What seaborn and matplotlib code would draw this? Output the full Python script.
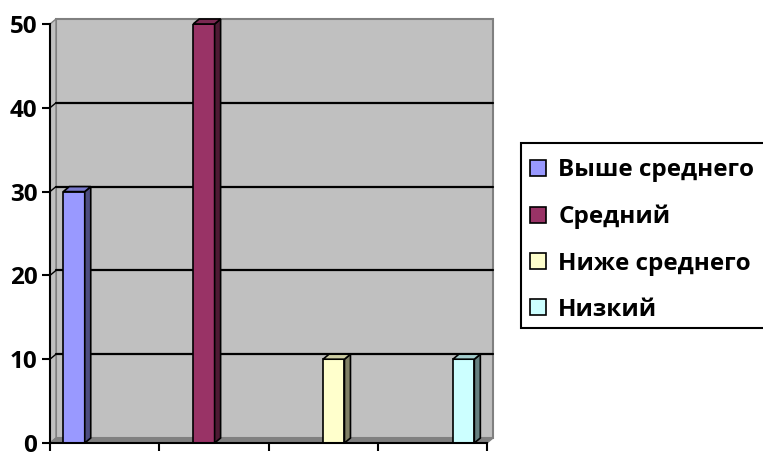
import numpy as np
import pandas as pd
import matplotlib
matplotlib.use('Agg')
import matplotlib.pyplot as plt
import seaborn as sns
from matplotlib.patches import Polygon, Patch, Rectangle
from matplotlib.lines import Line2D
import matplotlib.colors as mcolors

categories = ["Выше среднего", "Средний", "Ниже среднего", "Низкий"]
values = [30, 50, 10, 10]
colors = ["#9999FF", "#993366", "#FFFFCC", "#CCFFFF"]
y_ticks = [0, 10, 20, 30, 40, 50]

sns.set_theme(style='white')
plt.rcParams['font.family'] = ['Open Sans', 'DejaVu Sans']

W, H = 763, 453
fig = plt.figure(figsize=(W / 100, H / 100), dpi=100)
L, R, B, T = 50, 487, 443, 24
ax = fig.add_axes([L / W, 1 - B / H, (R - L) / W, (B - T) / H])
ax.set_facecolor('none')

df = pd.DataFrame({'category': categories, 'value': values})
sns.barplot(data=df, x='category', y='value', hue='category', palette=colors,
            width=0.165, legend=False, edgecolor='black', linewidth=1.2,
            saturation=1, ax=ax, zorder=5)

x0, x1 = -0.185, 3.18
ax.set_xlim(x0, x1)
ax.set_ylim(0, 50)
ax.set_xticks(np.linspace(x0, x1, 5))
ax.set_xticklabels([])
ax.set_yticks(y_ticks)
ax.set_xlabel('')
ax.set_ylabel('')
ax.grid(False)
ax.tick_params(axis='y', length=6, width=1.5, pad=3, labelsize=17.5, direction='out',
               left=True, color='black', labelcolor='black')
ax.tick_params(axis='x', length=6, width=1.5, direction='out', bottom=True, color='black')
for lbl in ax.get_yticklabels():
    lbl.set_fontweight('bold')
for s in ['top', 'right']:
    ax.spines[s].set_visible(False)
for s in ['left', 'bottom']:
    ax.spines[s].set_color('black')
    ax.spines[s].set_linewidth(1.5)
    ax.spines[s].set_zorder(6)

DX, DY = 6, 5


def off(x, y):
    d = ax.transData.transform((x, y))
    return tuple(ax.transData.inverted().transform((d[0] + DX, d[1] + DY)))


ymax = 50
# back wall
ax.add_patch(Polygon([off(x0, 0), off(x1, 0), off(x1, ymax), off(x0, ymax)],
                     closed=True, facecolor='#C0C0C0', edgecolor='#808080', lw=1.5,
                     zorder=0, clip_on=False))
# left wall
ax.add_patch(Polygon([(x0, 0), (x0, ymax), off(x0, ymax), off(x0, 0)],
                     closed=True, facecolor='#C0C0C0', edgecolor='#808080', lw=1.0,
                     zorder=0.5, clip_on=False))
# floor
ax.add_patch(Polygon([(x0, 0), (x1, 0), off(x1, 0), off(x0, 0)],
                     closed=True, facecolor='#808080', edgecolor='#808080', lw=1.0,
                     zorder=1, clip_on=False))
# gridlines on the wall
for v in y_ticks[1:-1]:
    a, b = off(x0, v), off(x1, v)
    ax.add_line(Line2D([a[0], b[0]], [a[1], b[1]], color='black', lw=1.6, zorder=2, clip_on=False))
    ax.add_line(Line2D([x0, a[0]], [v, a[1]], color='black', lw=1.0, zorder=2, clip_on=False))

# 3D faces on bars
bars = [p for p in ax.patches if p.get_zorder() == 5]
for p, c in zip(bars, colors):
    bx, bw, bh = p.get_x(), p.get_width(), p.get_height()
    rgb = np.array(mcolors.to_rgb(c))
    side = tuple(rgb * 0.5)
    top = tuple(rgb * 0.8)
    ax.add_patch(Polygon([(bx + bw, 0), (bx + bw, bh), off(bx + bw, bh), off(bx + bw, 0)],
                         closed=True, facecolor=side, edgecolor='black', lw=1.2,
                         zorder=5, clip_on=False))
    ax.add_patch(Polygon([(bx, bh), (bx + bw, bh), off(bx + bw, bh), off(bx, bh)],
                         closed=True, facecolor=top, edgecolor='black', lw=1.2,
                         zorder=5, clip_on=False))

# legend box (extends past right edge of the image as in the reference)
fig.patches.append(Rectangle((521 / W, 1 - 328 / H), 0.5, (328 - 143) / H,
                             transform=fig.transFigure, facecolor='white',
                             edgecolor='black', lw=1.5, zorder=0))

handles = [Patch(facecolor=c, edgecolor='black', lw=1.2) for c in colors]
leg = fig.legend(handles, categories, loc='upper left',
                 bbox_to_anchor=(523 / W, 1 - 151 / H),
                 frameon=False,
                 prop={'weight': 'bold', 'size': 17.5}, handlelength=0.65, handleheight=0.65,
                 handletextpad=0.5, labelspacing=0.92, borderaxespad=0, borderpad=0.3)
for t in leg.get_texts():
    t.set_color('black')

fig.savefig('out.png', dpi=100)
